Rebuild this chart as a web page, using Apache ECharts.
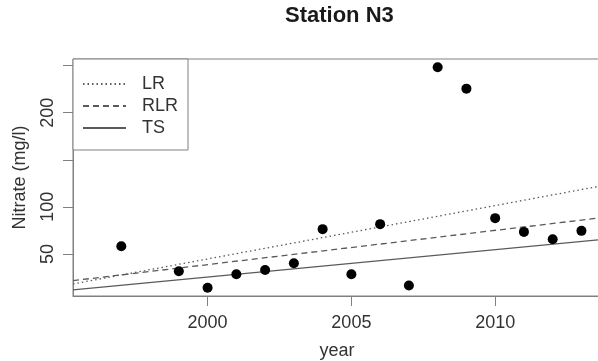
<!DOCTYPE html>
<html>
<head>
<meta charset="utf-8">
<script src="https://cdn.jsdelivr.net/npm/echarts@6/dist/echarts.min.js"></script>
<style>
  html, body { margin: 0; padding: 0; background: #fff; }
  #chart { width: 598px; height: 361px; }
</style>
</head>
<body>
<div id="chart"></div>
<script>
// Annual nitrate observations at station N3
const years   = [1997, 1999, 2000, 2001, 2002, 2003, 2004, 2005, 2006, 2007, 2008, 2009, 2010, 2011, 2012, 2013];
const nitrate = [58.2, 31.6, 14.1, 28.4, 33.0, 40.1, 76.3, 28.4, 81.6, 16.5, 248.2, 225.5, 88.0, 73.4, 65.6, 74.5];

// Trend lines, given by their values at both ends of the year range
const fitYears = [1995.32, 2013.68];
const lrFit    = [18.1, 122.2];   // least squares
const rlrFit   = [21.6, 88.4];    // robust linear regression
const tsFit    = [11.7, 65.2];    // Theil-Sen

const xTicks  = [2000, 2005, 2010];
const yTicks  = [50, 100, 150, 200, 250];
const yLabels = [50, 100, 200];

const FONT = '"Liberation Sans", Arial, Helvetica, sans-serif';
const AXIS_GREY = '#808080';
const TEXT = '#333';
const LINE = '#5a5a5a';

const pairs = (xs, ys) => xs.map((x, i) => [x, ys[i]]);
const plain = v => String(v);

const chart = echarts.init(document.getElementById('chart'), null, { renderer: 'canvas' });

const fitSeries = (name, ys, type) => ({
  name, type: 'line', data: pairs(fitYears, ys),
  symbol: 'none', showSymbol: false, silent: true, clip: true,
  lineStyle: { color: LINE, width: 1.3, type },
  itemStyle: { color: LINE },
  z: 2
});

chart.setOption({
  animation: false,
  backgroundColor: '#fff',
  textStyle: { fontFamily: FONT },
  title: {
    text: 'Station N3',
    left: 280, top: 0,
    textStyle: { fontFamily: FONT, fontSize: 22, fontWeight: 'bold', color: '#1a1a1a' }
  },
  grid: {
    left: 73, right: -3, top: 59, bottom: 65,
    outerBoundsMode: 'none', containLabel: false,
    show: true, borderColor: AXIS_GREY, borderWidth: 1, backgroundColor: 'transparent'
  },
  legend: {
    data: ['LR', 'RLR', 'TS'],
    orient: 'vertical',
    left: 73, top: 59,
    padding: [16, 10, 13, 9],
    itemWidth: 43, itemHeight: 14, itemGap: 4,
    borderColor: AXIS_GREY, borderWidth: 1,
    backgroundColor: '#fff',
    selectedMode: false,
    itemStyle: { color: 'transparent', borderWidth: 0, opacity: 0 },
    textStyle: { fontFamily: FONT, fontSize: 18, color: TEXT, lineHeight: 18, padding: [0, 0, 0, 11] }
  },
  xAxis: {
    type: 'value', min: fitYears[0], max: fitYears[1],
    name: 'year', nameLocation: 'middle', nameGap: 46,
    nameTextStyle: { fontFamily: FONT, fontSize: 18, color: TEXT },
    axisLine: { show: true, lineStyle: { color: AXIS_GREY, width: 1 } },
    axisTick: { show: true, customValues: xTicks, length: 10, lineStyle: { color: AXIS_GREY } },
    axisLabel: { customValues: xTicks, formatter: plain, fontSize: 18, color: TEXT, margin: 18, fontFamily: FONT },
    splitLine: { show: false }
  },
  yAxis: {
    type: 'value', min: 5.3, max: 257,
    name: 'Nitrate (mg/l)', nameLocation: 'middle', nameGap: 44, nameRotate: 90,
    nameTextStyle: { fontFamily: FONT, fontSize: 18, color: TEXT },
    axisLine: { show: true, lineStyle: { color: AXIS_GREY, width: 1 } },
    axisTick: { show: true, customValues: yTicks, length: 10, lineStyle: { color: AXIS_GREY } },
    axisLabel: { customValues: yLabels, formatter: plain, rotate: 90, fontSize: 18, color: TEXT, margin: 16, fontFamily: FONT },
    splitLine: { show: false }
  },
  series: [
    fitSeries('LR', lrFit, [1.5, 3]),
    fitSeries('RLR', rlrFit, [6, 4]),
    fitSeries('TS', tsFit, 'solid'),
    {
      name: 'Nitrate', type: 'scatter', data: pairs(years, nitrate),
      symbol: 'circle', symbolSize: 10,
      itemStyle: { color: '#000', opacity: 1 },
      z: 3
    }
  ]
});
</script>
</body>
</html>
